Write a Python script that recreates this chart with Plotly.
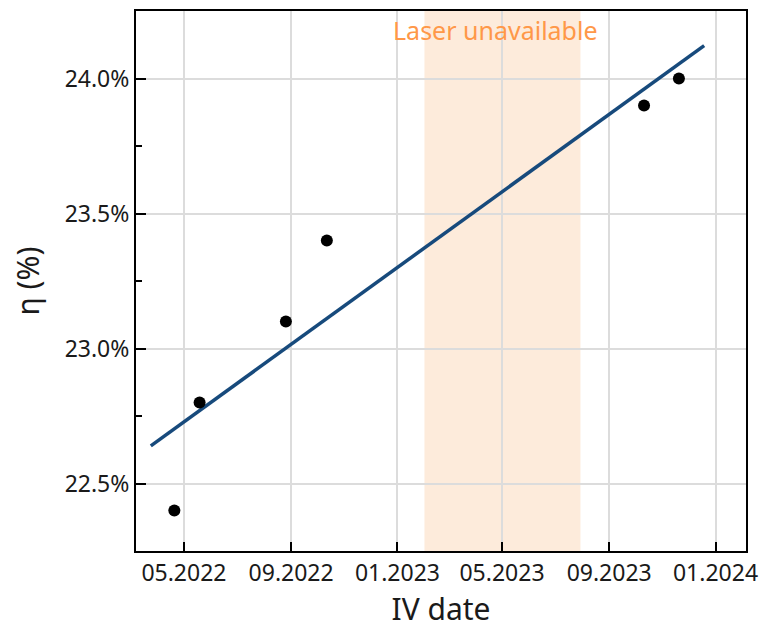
import numpy as np
import pandas as pd
import plotly.graph_objects as go

# IV measurement dates and cell efficiencies
iv_dates = ["2022-04-20", "2022-05-19", "2022-08-26", "2022-10-12", "2023-10-11", "2023-11-20"]
efficiency = [22.4, 22.8, 23.1, 23.4, 23.9, 24.0]

# Span over which the linear trend is drawn
trend_span = ["2022-03-24", "2023-12-19"]

# Period without laser access
laser_gap = ["2023-02-01", "2023-07-30"]

x_ticks = ["2022-05-01", "2022-09-01", "2023-01-01", "2023-05-01", "2023-09-01", "2024-01-01"]
x_tick_labels = ["05.2022", "09.2022", "01.2023", "05.2023", "09.2023", "01.2024"]
y_ticks = [22.5, 23.0, 23.5, 24.0]
y_tick_labels = ["22.5%", "23.0%", "23.5%", "24.0%"]

# Least-squares linear trend in days
d = pd.to_datetime(iv_dates)
t0 = d[0]
days = np.array([(x - t0).days for x in d], dtype=float)
slope, intercept = np.polyfit(days, efficiency, 1)
span = pd.to_datetime(trend_span)
span_days = np.array([(x - t0).days for x in span], dtype=float)
trend_vals = slope * span_days + intercept

FONT = "Noto Sans"

fig = go.Figure()

fig.add_vrect(x0=laser_gap[0], x1=laser_gap[1], fillcolor="#FDEBDB", opacity=1,
              line_width=0, layer="below")

fig.add_trace(go.Scatter(x=span, y=trend_vals, mode="lines",
                         line=dict(color="#174A7C", width=3.5), showlegend=False))
fig.add_trace(go.Scatter(x=d, y=efficiency, mode="markers",
                         marker=dict(color="black", size=12), showlegend=False))

fig.add_annotation(x=pd.Timestamp("2023-04-23"), y=24.178, text="Laser unavailable",
                   showarrow=False, font=dict(family=FONT, size=25, color="#FF9848"))

fig.update_layout(
    width=767, height=633,
    margin=dict(l=136, r=19, t=9, b=82),
    paper_bgcolor="white", plot_bgcolor="rgba(0,0,0,0)",
    font=dict(family=FONT, color="#1A1A1A"),
    xaxis=dict(
        range=["2022-03-07", "2024-02-05"],
        tickvals=x_ticks, ticktext=x_tick_labels,
        tickfont=dict(size=23),
        ticks="inside", ticklen=9, tickwidth=1.5, tickcolor="black",
        showline=True, linecolor="black", linewidth=2, mirror=True,
        showgrid=True, gridcolor="#DCDCDC", gridwidth=1.5,
        zeroline=False,
        title=dict(text="IV date", font=dict(size=30), standoff=10),
        layer="below traces",
    ),
    yaxis=dict(
        range=[22.25, 24.25],
        tickvals=y_ticks, ticktext=y_tick_labels,
        tickfont=dict(size=23),
        ticks="inside", ticklen=10, tickwidth=1.5, tickcolor="black",
        minor=dict(dtick=0.25, tick0=22.25, ticks="inside", ticklen=6,
                   tickwidth=1.5, tickcolor="black", showgrid=False),
        showline=True, linecolor="black", linewidth=2, mirror=True,
        showgrid=True, gridcolor="#DCDCDC", gridwidth=1.5,
        zeroline=False,
        title=dict(text="η (%)", font=dict(size=30), standoff=16),
        layer="below traces",
    ),
)

fig.write_html("out.html")
